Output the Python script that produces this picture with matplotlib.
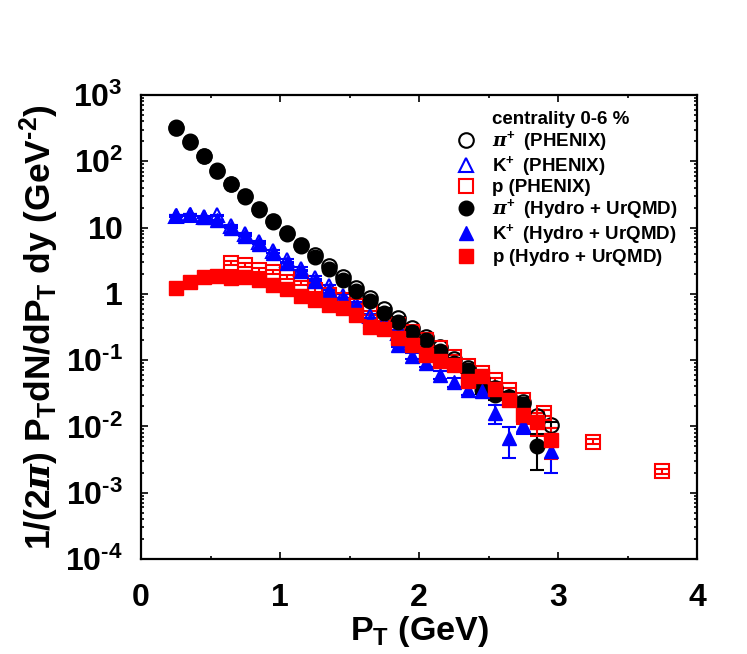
import matplotlib
matplotlib.use('Agg')
import matplotlib.pyplot as plt
from matplotlib import font_manager
from matplotlib.lines import Line2D
from matplotlib.ticker import MultipleLocator, LogLocator, NullFormatter

# ---------------- data ----------------
pt_pi_phenix = [0.25, 0.35, 0.45, 0.55, 0.65, 0.75, 0.85, 0.95, 1.05, 1.15, 1.25, 1.35, 1.45, 1.55,
                1.65, 1.75, 1.85, 1.95, 2.05, 2.15, 2.25, 2.35, 2.45, 2.55, 2.65, 2.75, 2.85, 2.95]
pi_phenix = [315, 195, 118, 72, 45, 29.5, 19, 12.5, 8.2, 5.5, 3.8, 2.6, 1.8, 1.22,
             0.88, 0.6, 0.43, 0.31, 0.22, 0.155, 0.105, 0.075, 0.052, 0.038, 0.028, 0.023, 0.0145, 0.0105]
pi_phenix_err = [6, 4, 2.5, 1.5, 0.9, 0.6, 0.4, 0.25, 0.16, 0.11, 0.08, 0.05, 0.04, 0.03,
                 0.02, 0.015, 0.01, 0.008, 0.006, 0.005, 0.004, 0.004, 0.003, 0.003, 0.002, 0.002, 0.0015, 0.0012]

pt_k_phenix = [0.25, 0.35, 0.45, 0.55, 0.65, 0.75, 0.85, 0.95, 1.05, 1.15, 1.25, 1.35, 1.45, 1.55,
               1.65, 1.75, 1.85, 1.95]
k_phenix = [15.0, 15.5, 14.5, 15.2, 10.5, 8.0, 6.0, 4.4, 3.2, 2.4, 1.75, 1.3, 0.93, 0.7,
            0.46, 0.36, 0.26, 0.19]
k_phenix_err = [0.5, 0.5, 0.5, 0.5, 0.4, 0.3, 0.25, 0.2, 0.15, 0.1, 0.08, 0.06, 0.05, 0.04,
                0.03, 0.025, 0.02, 0.015]

pt_p_phenix = [0.65, 0.75, 0.85, 0.95, 1.05, 1.15, 1.25, 1.35, 1.45, 1.55, 1.65, 1.75, 1.85, 1.95,
               2.05, 2.15, 2.25, 2.35, 2.45, 2.55, 2.65, 2.75, 2.9, 3.25, 3.75]
p_phenix = [2.9, 2.7, 2.3, 2.15, 1.82, 1.45, 1.15, 0.95, 0.8, 0.66, 0.52, 0.42, 0.34, 0.27,
            0.2, 0.15, 0.11, 0.082, 0.065, 0.05, 0.035, 0.025, 0.016, 0.0059, 0.0021]
p_phenix_err = [0.2, 0.18, 0.15, 0.14, 0.12, 0.1, 0.08, 0.06, 0.05, 0.04, 0.035, 0.03, 0.025, 0.02,
                0.015, 0.011, 0.008, 0.006, 0.005, 0.004, 0.003, 0.002, 0.0014, 0.0005, 0.0002]

pt_pi_hydro = [0.25, 0.35, 0.45, 0.55, 0.65, 0.75, 0.85, 0.95, 1.05, 1.15, 1.25, 1.35, 1.45, 1.55,
               1.65, 1.75, 1.85, 1.95, 2.05, 2.15, 2.25, 2.35, 2.45, 2.55, 2.65, 2.75, 2.85]
pi_hydro = [330, 205, 122, 74, 45, 28.5, 18.5, 12.3, 7.9, 5.3, 3.55, 2.35, 1.62, 1.1,
            0.79, 0.51, 0.37, 0.27, 0.2, 0.135, 0.09, 0.07, 0.036, 0.03, 0.027, 0.022, 0.005]
pi_hydro_err = [0, 0, 0, 0, 0, 0, 0, 0, 0, 0, 0, 0, 0, 0,
                0, 0, 0, 0, 0, 0.005, 0.005, 0.006, 0.005, 0.005, 0.006, 0.005, 0.0028]

pt_k_hydro = [0.25, 0.35, 0.45, 0.55, 0.65, 0.75, 0.85, 0.95, 1.05, 1.15, 1.25, 1.35, 1.45, 1.55,
              1.65, 1.75, 1.85, 1.95, 2.05, 2.15, 2.25, 2.35, 2.45, 2.55, 2.65, 2.75, 2.95]
k_hydro = [15.5, 16.0, 14.6, 13.2, 9.8, 7.5, 5.7, 4.1, 2.95, 2.2, 1.55, 1.15, 0.88, 0.64,
           0.4, 0.3, 0.17, 0.116, 0.09, 0.06, 0.046, 0.036, 0.034, 0.016, 0.0066, 0.0106, 0.0042]
k_hydro_err = [0, 0, 0, 0, 0, 0, 0, 0, 0, 0, 0, 0, 0, 0,
               0, 0, 0.015, 0.012, 0.01, 0.008, 0.007, 0.006, 0.006, 0.005, 0.0033, 0.003, 0.0022]

pt_p_hydro = [0.25, 0.35, 0.45, 0.55, 0.65, 0.75, 0.85, 0.95, 1.05, 1.15, 1.25, 1.35, 1.45, 1.55,
              1.65, 1.75, 1.85, 1.95, 2.05, 2.15, 2.25, 2.35, 2.45, 2.55, 2.65, 2.75, 2.85, 2.95]
p_hydro = [1.24, 1.53, 1.82, 1.87, 1.73, 1.78, 1.63, 1.35, 1.18, 0.93, 0.81, 0.68, 0.62, 0.48,
           0.32, 0.29, 0.215, 0.17, 0.12, 0.097, 0.085, 0.048, 0.057, 0.037, 0.025, 0.015, 0.0116, 0.0063]
p_hydro_err = [0, 0, 0, 0, 0, 0, 0, 0, 0, 0, 0, 0, 0, 0,
               0, 0, 0, 0, 0, 0.008, 0.008, 0.006, 0.006, 0.005, 0.004, 0.004, 0.0044, 0.0031]

ytick_values = [1e-4, 1e-3, 1e-2, 1e-1, 1, 10, 1e2, 1e3]
ytick_labels = [r'$\mathbf{10^{\text{-}4}}$', r'$\mathbf{10^{\text{-}3}}$', r'$\mathbf{10^{\text{-}2}}$',
                r'$\mathbf{10^{\text{-}1}}$', r'$\mathbf{1}$', r'$\mathbf{10}$',
                r'$\mathbf{10^{2}}$', r'$\mathbf{10^{3}}$']
xtick_values = [0, 1, 2, 3, 4]
xtick_labels = ['0', '1', '2', '3', '4']

legend_title = 'centrality 0-6 %'
labels = [r'$\pi^{\mathbf{+}}\,$ (PHENIX)', r'K$^{\mathbf{+}}\,$ (PHENIX)', 'p (PHENIX)',
          r'$\pi^{\mathbf{+}}\,$ (Hydro$\;\mathregular{+}\;$UrQMD)',
          r'K$^{\mathbf{+}}\,$ (Hydro$\;\mathregular{+}\;$UrQMD)',
          r'p (Hydro$\;\mathregular{+}\;$UrQMD)']

# ---------------- fonts ----------------
names = {f.name for f in font_manager.fontManager.ttflist}
if 'Liberation Sans Narrow' in names:
    narrow = 'Liberation Sans Narrow'
elif 'DejaVu Sans Condensed' in names:
    narrow = 'DejaVu Sans Condensed'
else:
    narrow = 'Liberation Sans'
plt.rcParams['font.family'] = [narrow, 'DejaVu Sans']
plt.rcParams['font.weight'] = 'bold'
plt.rcParams['mathtext.fontset'] = 'custom'
plt.rcParams['mathtext.bf'] = narrow + ':bold'
plt.rcParams['mathtext.rm'] = narrow + ':bold'
plt.rcParams['mathtext.it'] = 'DejaVu Serif:italic'

fig = plt.figure(figsize=(7.47, 6.54), dpi=100)
ax = fig.add_axes([0.1888, 0.1453, 0.7443, 0.7095])

ms_c = 10.5
ms_t = 10.0
ms_s = 9.5
ew = 1.5

# PHENIX (open)
ax.errorbar(pt_pi_phenix, pi_phenix, yerr=pi_phenix_err, fmt='o', ms=ms_c, mfc='none', mec='black',
            mew=ew, ecolor='black', elinewidth=1.5, capsize=5, capthick=1.5)
ax.errorbar(pt_k_phenix, k_phenix, yerr=k_phenix_err, fmt='^', ms=ms_t, mfc='none', mec='blue',
            mew=ew, ecolor='blue', elinewidth=1.5, capsize=5, capthick=1.5)
ax.errorbar(pt_p_phenix, p_phenix, yerr=p_phenix_err, fmt='s', ms=ms_s, mfc='none', mec='red',
            mew=ew, ecolor='red', elinewidth=1.5, capsize=5, capthick=1.5)
# Hydro + UrQMD (filled)
ax.errorbar(pt_pi_hydro, pi_hydro, yerr=pi_hydro_err, fmt='o', ms=ms_c, mfc='black', mec='black',
            ecolor='black', elinewidth=1.5, capsize=5, capthick=1.5)
ax.errorbar(pt_k_hydro, k_hydro, yerr=k_hydro_err, fmt='^', ms=ms_t, mfc='blue', mec='blue',
            ecolor='blue', elinewidth=1.5, capsize=5, capthick=1.5)
ax.errorbar(pt_p_hydro, p_hydro, yerr=p_hydro_err, fmt='s', ms=ms_s, mfc='red', mec='red',
            ecolor='red', elinewidth=1.5, capsize=5, capthick=1.5)

ax.set_yscale('log')
ax.set_xlim(0, 4)
ax.set_ylim(1e-4, 1e3)
ax.set_yticks(ytick_values, labels=ytick_labels)
ax.yaxis.set_minor_locator(LogLocator(base=10, subs=range(2, 10), numticks=20))
ax.yaxis.set_minor_formatter(NullFormatter())
ax.set_xticks(xtick_values, labels=xtick_labels)
ax.xaxis.set_minor_locator(MultipleLocator(0.5))
ax.tick_params(which='both', direction='in', top=True, right=True, width=1.2)
ax.tick_params(which='major', length=5, labelsize=23)
ax.tick_params(axis='x', which='major', pad=17)
ax.tick_params(axis='y', which='major', pad=13)
ax.tick_params(which='minor', length=2.5)
for lab in ax.get_xticklabels() + ax.get_yticklabels():
    lab.set_fontweight('bold')
for sp in ax.spines.values():
    sp.set_linewidth(1.6)

ax.set_xlabel(r'P$_{\mathbf{T}}$ (GeV)', fontsize=24.5, fontweight='bold', labelpad=1)
ax.set_ylabel(r'1/(2$\pi$) P$_{\mathbf{T}}$dN/dP$_{\mathbf{T}}$ dy (GeV$^{\text{-}\mathbf{2}}$)',
              fontsize=25.5, fontweight='bold', labelpad=3)

handles = [Line2D([], [], linestyle='none', marker='none'),
           Line2D([], [], linestyle='none', marker='o', ms=ms_c, mfc='none', mec='black', mew=ew),
           Line2D([], [], linestyle='none', marker='^', ms=ms_t, mfc='none', mec='blue', mew=ew),
           Line2D([], [], linestyle='none', marker='s', ms=ms_s, mfc='none', mec='red', mew=ew),
           Line2D([], [], linestyle='none', marker='o', ms=ms_c, mfc='black', mec='black'),
           Line2D([], [], linestyle='none', marker='^', ms=ms_t, mfc='blue', mec='blue'),
           Line2D([], [], linestyle='none', marker='s', ms=ms_s, mfc='red', mec='red')]
leg = ax.legend(handles, [legend_title] + labels, loc='upper left',
                bbox_to_anchor=(0.565, 0.965), frameon=False, borderpad=0, borderaxespad=0,
                handlelength=1.2, handletextpad=0.75, labelspacing=0.05,
                prop={'family': ['Liberation Sans', 'DejaVu Sans'], 'weight': 'bold', 'size': 13.5})

fig.savefig('out.png', dpi=100)
